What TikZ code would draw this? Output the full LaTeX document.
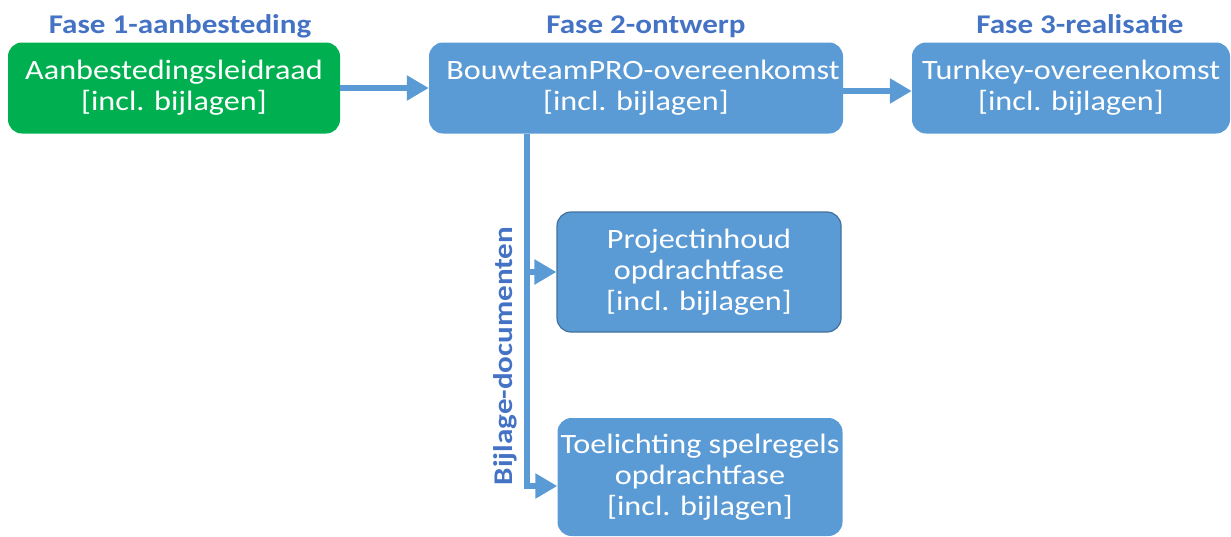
\documentclass[tikz,border=0pt]{standalone}
\usepackage{fontspec}
\setmainfont{Carlito}[FakeStretch=1.15]
\usepackage{xcolor}
\usetikzlibrary{arrows.meta,positioning}
\definecolor{fasegreen}{RGB}{0, 176, 80}
\definecolor{faseblue}{RGB}{91, 155, 213}
\definecolor{fasehead}{RGB}{68, 114, 196}
\definecolor{faseedge}{RGB}{65, 113, 156}

\begin{document}
\begin{tikzpicture}[x=1pt, y=-1pt,
    docbox/.style={rounded corners=14pt, fill=faseblue, text=white, align=center,
        inner sep=0pt, font=\fontsize{28}{31}\selectfont},
    fasehead/.style={text=fasehead, anchor=base, font=\bfseries\fontsize{27}{28}\selectfont},
    flow/.style={faseblue, line width=6.5pt, -{Triangle[length=22pt, width=24pt]}}]
    \useasboundingbox (0,0) rectangle (1231,536);

    % Phase titles
    \node[fasehead] (fase1) at (180, 33) {Fase 1-aanbesteding};
    \node[fasehead] (fase2) at (646, 33) {Fase 2-ontwerp};
    \node[fasehead] (fase3) at (1080, 33) {Fase 3-realisatie};

    % Contract documents
    \node[docbox, fill=fasegreen, minimum width=332pt, minimum height=91pt]
        (leidraad) at (174, 88) {\rule{0pt}{8pt}Aanbestedingsleidraad\\{}[incl. bijlagen]};
    \node[docbox, minimum width=414pt, minimum height=91pt]
        (bouwteam) at (636, 88) {\rule{0pt}{8pt}\hspace*{14pt}BouwteamPRO-overeenkomst\\{}[incl. bijlagen]};
    \node[docbox, minimum width=318pt, minimum height=91pt]
        (turnkey) at (1071, 88) {\rule{0pt}{8pt}Turnkey-overeenkomst\\{}[incl. bijlagen]};

    % Annex documents
    \node[docbox, draw=faseedge, line width=1.2pt, minimum width=284pt, minimum height=120pt]
        (projectinhoud) at (699, 272) {Projectinhoud\\opdrachtfase\\{}[incl. bijlagen]};
    \node[docbox, minimum width=285pt, minimum height=118pt]
        (toelichting) at (700, 477) {Toelichting spelregels\\opdrachtfase\\{}[incl. bijlagen]};

    % Flow between phases
    \draw[flow] (leidraad.east) -- (bouwteam.west);
    \draw[flow] ([yshift=-3pt]bouwteam.east) -- ([yshift=-3pt]turnkey.west);

    % Annex branch
    \coordinate (split) at (527, 0);
    \draw[flow] (bouwteam.south -| split) |- ([yshift=-9pt]toelichting.west);
    \draw[flow] (split |- projectinhoud.west) -- (projectinhoud.west);
    \node[text=fasehead, rotate=90, font=\bfseries\fontsize{27}{28}\selectfont]
        (bijlage) at (505, 356) {Bijlage-documenten};
\end{tikzpicture}
\end{document}
